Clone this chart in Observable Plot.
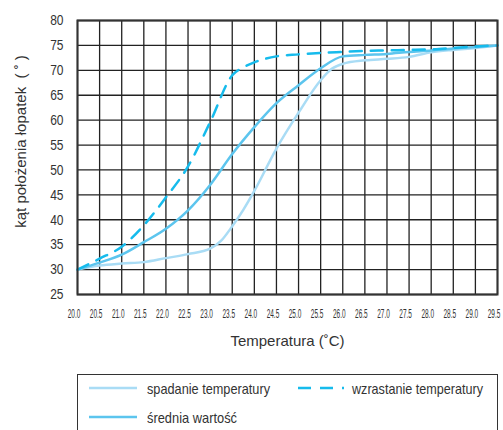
<!DOCTYPE html>
<html><head><meta charset="utf-8">
<script src="https://cdn.jsdelivr.net/npm/d3@7"></script>
<script src="https://cdn.jsdelivr.net/npm/@observablehq/plot@0.6"></script>
<style>
body{margin:0;background:#fff;font-family:"Liberation Sans",Arial,sans-serif;color:#333;}
#wrap{position:relative;width:503px;height:430px;overflow:hidden;}
#legend{position:absolute;left:77px;top:374px;width:421px;height:70px;border:1px solid #333;box-sizing:border-box;}
.sw{position:absolute;display:block;}
.lt{position:absolute;font-size:15px;line-height:18px;white-space:nowrap;color:#333;transform-origin:0 50%;}
</style></head><body><div id="wrap"><div id="chart"></div><div id="legend"></div></div>
<script>
// ---- data ----
const xTicks = [20.0,20.5,21.0,21.5,22.0,22.5,23.0,23.5,24.0,24.5,25.0,25.5,26.0,26.5,27.0,27.5,28.0,28.5,29.0,29.5];
const yTicks = [25,30,35,40,45,50,55,60,65,70,75,80];

const fallT = [20.0,20.5,21.0,21.5,22.0,22.5,23.0,23.25,23.5,23.75,24.0,24.5,25.0,25.5,25.75,26.0,26.5,27.0,27.5,28.0,28.5,29.0,29.5];
const fallV = [30.0,30.8,31.2,31.5,32.3,33.1,34.2,35.8,38.7,42.0,45.8,54.3,61.5,68.0,70.3,71.3,72.0,72.3,72.7,73.6,74.1,74.5,75.0];

const avgT = [20.0,20.5,21.0,21.5,22.0,22.5,23.0,23.5,24.0,24.5,25.0,25.5,26.0,26.5,27.0,27.5,28.0,28.5,29.0,29.5];
const avgV = [30.0,31.4,33.0,35.5,38.2,41.9,47.0,53.2,58.6,63.4,67.0,70.4,72.8,73.1,73.3,73.7,74.0,74.4,74.7,75.0];

const riseT = [20.0,20.5,21.0,21.5,22.0,22.5,23.0,23.5,23.75,24.0,24.5,25.0,25.5,26.0,26.5,27.0,27.5,28.0,28.5,29.0,29.5];
const riseV = [30.0,32.2,34.6,38.9,44.5,50.7,59.6,69.0,70.6,71.6,72.8,73.2,73.5,73.7,73.9,74.0,74.1,74.2,74.5,74.8,75.0];

const seriesNames = ["spadanie temperatury","wzrastanie temperatury","średnia wartość"];
const xTitle = "Temperatura (˚C)";
const yTitle = "kąt położenia łopatek  ( ˚ )";

const colFall = "#a9dcf5", colAvg = "#5cc5ee", colRise = "#16bbec";
const FONT = '"Liberation Sans",Arial,sans-serif';

const toRows = (T,V) => T.map((t,i)=>({t, v:V[i]}));
const fall = toRows(fallT, fallV), avg = toRows(avgT, avgV), rise = toRows(riseT, riseV);

const chart = Plot.plot({
  width: 503, height: 365,
  marginLeft: 77, marginRight: 6, marginTop: 20, marginBottom: 71,
  style: {fontFamily: FONT, color: "#333", background: "#fff"},
  x: {domain: [20, 29.5]},
  y: {domain: [25, 80]},
  marks: [
    Plot.gridX(xTicks, {stroke: "#222", strokeOpacity: 1, strokeWidth: 1.3}),
    Plot.gridY(yTicks, {stroke: "#222", strokeOpacity: 1, strokeWidth: 1.3}),
    Plot.line(fall, {x: "t", y: "v", stroke: colFall, strokeWidth: 2.5, curve: "monotone-x"}),
    Plot.line(avg, {x: "t", y: "v", stroke: colAvg, strokeWidth: 2.5, curve: "monotone-x"}),
    Plot.line(rise, {x: "t", y: "v", stroke: colRise, strokeWidth: 2.5, strokeDasharray: "12,9", curve: "monotone-x"}),
    Plot.frame({stroke: "#333", strokeWidth: 2}),
    Plot.axisX(xTicks, {tickSize: 0, tickPadding: 15, dx: -3.5, fontSize: 12, tickFormat: d3.format(".1f"), label: null}),
    Plot.axisY(yTicks, {tickSize: 0, tickPadding: 14, fontSize: 15, label: null}),
    Plot.text([xTitle], {text: d => d, frameAnchor: "bottom", dy: 51, fontSize: 15, fill: "#333", ariaLabel: "xtitle"}),
    Plot.text([yTitle], {text: d => d, frameAnchor: "left", textAnchor: "middle", rotate: -90, dx: -56, dy: -16, fontSize: 15, fill: "#333", ariaLabel: "ytitle"})
  ]
});
document.getElementById("chart").appendChild(chart);

// horizontally condense glyphs (keeps the text anchor) using textLength
function condense(el, s){
  const len = el.getComputedTextLength();
  if (len > 0) { el.setAttribute("textLength", len * s); el.setAttribute("lengthAdjust", "spacingAndGlyphs"); }
}
function fitText(el, target){
  const len = el.getComputedTextLength();
  if (len > 0) { el.setAttribute("textLength", target); el.setAttribute("lengthAdjust", "spacingAndGlyphs"); }
}
d3.select(chart).selectAll('g[aria-label="x-axis tick label"] text').each(function(){ condense(this, 0.54); });
d3.select(chart).selectAll('g[aria-label="y-axis tick label"] text').each(function(){ condense(this, 0.8); });
d3.select(chart).selectAll('g[aria-label="xtitle"] text').each(function(){ fitText(this, 98); });
d3.select(chart).selectAll('g[aria-label="ytitle"] text').each(function(){ fitText(this, 162); });

// legend
const legend = document.getElementById("legend");
function addItem(swLeft, swW, top, textLeft, textW, name, color, dash){
  const s = d3.create("svg").attr("class","sw").attr("width", swW).attr("height", 6)
    .style("left", swLeft + "px").style("top", (top - 3) + "px");
  s.append("line").attr("x1",0).attr("x2",swW).attr("y1",3).attr("y2",3)
    .attr("stroke",color).attr("stroke-width",2.5).attr("stroke-dasharray", dash ? "13,9" : null);
  legend.appendChild(s.node());
  const sp = document.createElement("span");
  sp.className = "lt"; sp.textContent = name;
  sp.style.left = textLeft + "px"; sp.style.top = (top - 8) + "px";
  legend.appendChild(sp);
  const w = sp.getBoundingClientRect().width;
  if (w > 0) sp.style.transform = `scaleX(${textW / w})`;
}
addItem(11, 48, 13, 69, 123, seriesNames[0], colFall, false);
addItem(220, 46, 13, 274, 131, seriesNames[1], colRise, true);
addItem(11, 48, 42, 69, 90, seriesNames[2], colAvg, false);
</script></body></html>
